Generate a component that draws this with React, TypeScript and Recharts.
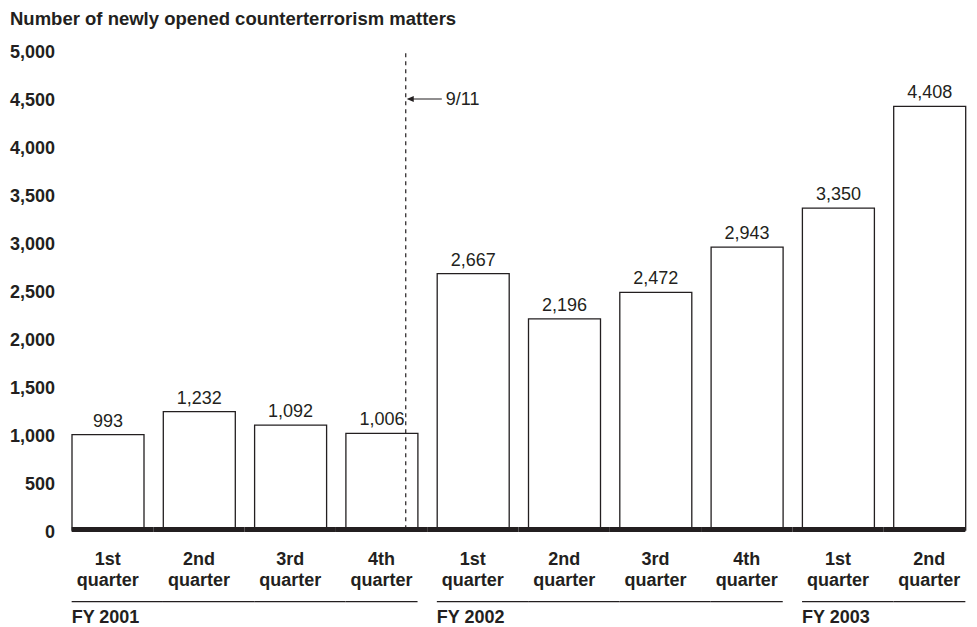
import React from "react";
import {
  BarChart,
  Bar,
  XAxis,
  YAxis,
  LabelList,
  ReferenceLine,
} from "recharts";

// Newly opened counterterrorism matters per quarter
const quarters = ["1st", "2nd", "3rd", "4th", "1st", "2nd", "3rd", "4th", "1st", "2nd"];
const fiscalYears = [
  "FY 2001", "FY 2001", "FY 2001", "FY 2001",
  "FY 2002", "FY 2002", "FY 2002", "FY 2002",
  "FY 2003", "FY 2003",
];
const matters = [993, 1232, 1092, 1006, 2667, 2196, 2472, 2943, 3350, 4408];
const yTicks = [0, 500, 1000, 1500, 2000, 2500, 3000, 3500, 4000, 4500, 5000];

// 9/11 on a 0..10 quarter timeline (shares the category range)
const sept11 = 3.765;
const arrowEnd = 4.16;
const sept11Label = "9/11";

const FONT = "'Liberation Sans', Arial, Helvetica, sans-serif";
const INK = "#231f20";
const BAR_SIZE = 72;
const TICK_MARGIN = 35;

const data = quarters.map((q, i) => ({
  key: `${fiscalYears[i]}-${q}`,
  quarter: q,
  fy: fiscalYears[i],
  value: matters[i],
  mid: i + 0.5,
}));

const fmt = (v: number) => v.toLocaleString("en-US");

function QuarterTick(props: any) {
  const { x, y, payload } = props;
  const i = payload.index;
  const half = payload.offset ?? 45.6;
  const plotBottom = y - TICK_MARGIN;
  const first = i === 0;
  const last = i === data.length - 1;
  const left = first ? x - BAR_SIZE / 2 : x - half;
  const right = last ? x + BAR_SIZE / 2 : x + half;
  const sameNext = !last && data[i + 1].fy === data[i].fy;
  const startsGroup = i === 0 || data[i - 1].fy !== data[i].fy;
  const lineRight = sameNext ? x + 2 * half - BAR_SIZE / 2 : x + BAR_SIZE / 2;
  return (
    <g>
      <rect x={left} y={plotBottom - 3} width={right - left} height={5} fill={INK} />
      <text
        x={x}
        y={y}
        textAnchor="middle"
        fontFamily={FONT}
        fontWeight="bold"
        fontSize={18}
        fill={INK}
      >
        <tspan x={x} dy={0}>{data[i].quarter}</tspan>
        <tspan x={x} dy={21}>quarter</tspan>
      </text>
      <line
        x1={x - BAR_SIZE / 2}
        x2={lineRight}
        y1={plotBottom + 71.7}
        y2={plotBottom + 71.7}
        stroke={INK}
        strokeWidth={1.2}
      />
      {startsGroup && (
        <text
          x={x - BAR_SIZE / 2}
          y={plotBottom + 93.3}
          fontFamily={FONT}
          fontWeight="bold"
          fontSize={18}
          fill={INK}
        >
          {data[i].fy}
        </text>
      )}
    </g>
  );
}

function ArrowShape(props: any) {
  const { x1, y1, x2, y2 } = props;
  return (
    <g>
      <line x1={x1 + 3} y1={y1} x2={x2} y2={y2} stroke={INK} strokeWidth={1.2} />
      <polygon points={`${x1 + 1},${y1} ${x1 + 8},${y1 - 3} ${x1 + 8},${y1 + 3}`} fill={INK} />
    </g>
  );
}

export default function App() {
  return (
    <div
      style={{
        position: "relative",
        width: 969,
        height: 619,
        fontFamily: FONT,
      }}
    >
      <style>{`html, body { overflow: hidden; } .recharts-wrapper, .recharts-surface { overflow: visible !important; }`}</style>
      <div
        style={{
          position: "absolute",
          left: 2,
          top: 2.4,
          fontSize: 18.5,
          fontWeight: "bold",
          color: INK,
          lineHeight: "18.5px",
          whiteSpace: "nowrap",
        }}
      >
        Number of newly opened counterterrorism matters
      </div>
      <BarChart
        width={969}
        height={619}
        data={data}
        margin={{ top: 41.5, right: 2, bottom: 0, left: 0 }}
      >
        <XAxis
          dataKey="key"
          xAxisId="cat"
          height={97}
          axisLine={false}
          tickLine={false}
          tickSize={0}
          tickMargin={TICK_MARGIN}
          interval={0}
          tick={<QuarterTick />}
        />
        <XAxis
          xAxisId="time"
          dataKey="mid"
          type="number"
          domain={[0, 10]}
          allowDataOverflow
          hide
          height={0}
        />
        <YAxis
          domain={[0, 5000]}
          ticks={yTicks}
          width={54}
          axisLine={false}
          tickLine={false}
          tickSize={0}
          tickMargin={7}
          tickFormatter={fmt}
          tick={{ fontSize: 18, fontWeight: "bold", fill: INK, fontFamily: FONT, dy: 2 }}
        />
        <Bar
          dataKey="value"
          xAxisId="cat"
          barSize={BAR_SIZE}
          fill="none"
          stroke={INK}
          strokeWidth={1.3}
          isAnimationActive={false}
        >
          <LabelList
            dataKey="value"
            position="top"
            offset={8}
            formatter={(v: any) => fmt(Number(v))}
            style={{ fontSize: 18, fill: INK, fontFamily: FONT }}
          />
        </Bar>
        <ReferenceLine
          xAxisId="time"
          segment={[
            { x: sept11, y: 4960 },
            { x: sept11, y: 0 },
          ]}
          stroke={INK}
          strokeWidth={1.2}
          strokeDasharray="4 4"
        />
        <ReferenceLine
          xAxisId="time"
          segment={[
            { x: sept11, y: 4485 },
            { x: arrowEnd, y: 4485 },
          ]}
          shape={<ArrowShape />}
          label={{
            value: sept11Label,
            position: "right",
            offset: 4,
            style: { fontSize: 18, fill: INK, fontFamily: FONT },
          }}
        />
      </BarChart>
    </div>
  );
}
